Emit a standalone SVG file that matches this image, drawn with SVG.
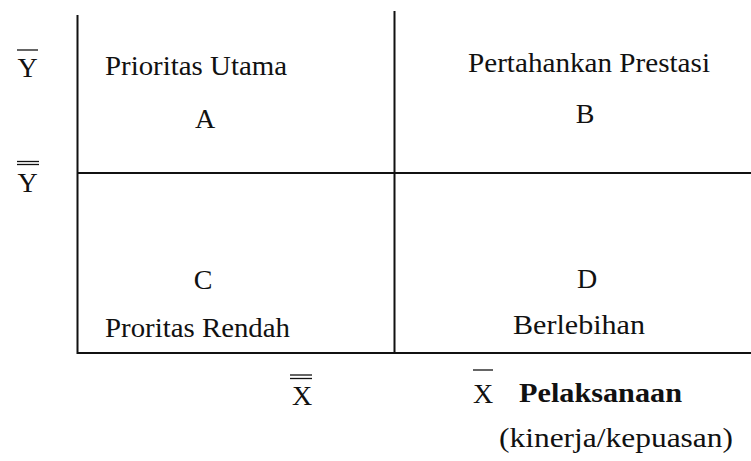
<svg xmlns="http://www.w3.org/2000/svg" width="751" height="461" viewBox="0 0 751 461">
<style>
  .t { font-family: "Liberation Serif", "Times New Roman", serif; font-size: 28px; fill: #111; }
  .c { text-anchor: middle; }
  .b { font-weight: bold; }
  .ln { stroke: #111; stroke-width: 2; fill: none; }
  .ov { stroke: #111; stroke-width: 1.3; fill: none; }
</style>
<rect width="751" height="461" fill="#fff"/>
<g id="connectors">
  <line class="ln" x1="77.5" y1="15" x2="77.5" y2="354"/>
  <line class="ln" x1="394.5" y1="11" x2="394.5" y2="354"/>
  <line class="ln" x1="77" y1="173" x2="751" y2="173"/>
  <line class="ln" x1="77" y1="353" x2="751" y2="353"/>
</g>
<g id="axis-y">
  <line class="ov" x1="17" y1="50" x2="38" y2="50"/>
  <text class="t c" x="27.5" y="77">Y</text>
  <line class="ov" x1="17" y1="161.5" x2="39" y2="161.5"/>
  <line class="ov" x1="17" y1="164.5" x2="39" y2="164.5"/>
  <text class="t c" x="27.5" y="192">Y</text>
</g>
<g id="quadrant-A">
  <text class="t" x="105" y="75" textLength="182" lengthAdjust="spacingAndGlyphs">Prioritas Utama</text>
  <text class="t c" x="205" y="128">A</text>
</g>
<g id="quadrant-B">
  <text class="t" x="468" y="72" textLength="242" lengthAdjust="spacingAndGlyphs">Pertahankan Prestasi</text>
  <text class="t c" x="585" y="123">B</text>
</g>
<g id="quadrant-C">
  <text class="t c" x="203" y="289">C</text>
  <text class="t" x="105" y="337" textLength="185" lengthAdjust="spacingAndGlyphs">Proritas Rendah</text>
</g>
<g id="quadrant-D">
  <text class="t c" x="587" y="288">D</text>
  <text class="t" x="513" y="334" textLength="132" lengthAdjust="spacingAndGlyphs">Berlebihan</text>
</g>
<g id="axis-x">
  <line class="ov" x1="290" y1="375" x2="312" y2="375"/>
  <line class="ov" x1="290" y1="378.5" x2="312" y2="378.5"/>
  <text class="t c" x="302" y="405">X</text>
  <line class="ov" x1="473" y1="370" x2="493" y2="370"/>
  <text class="t c" x="483" y="403">X</text>
  <text class="t b" x="519" y="402" textLength="163" lengthAdjust="spacingAndGlyphs">Pelaksanaan</text>
  <text class="t" x="499" y="447" textLength="234" lengthAdjust="spacingAndGlyphs">(kinerja/kepuasan)</text>
</g>
</svg>
